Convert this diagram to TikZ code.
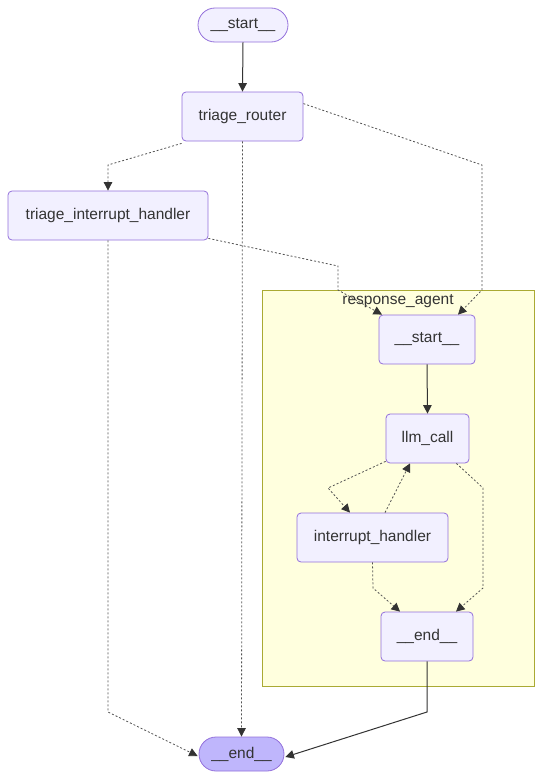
\documentclass[tikz,border=0pt]{standalone}
\usepackage{fontspec}
\setmainfont{Liberation Sans}
\usetikzlibrary{arrows.meta,shapes.misc}
\definecolor{nodefill}{HTML}{F2F0FF}
\definecolor{nodedraw}{HTML}{9370DB}
\definecolor{endfill}{HTML}{BFB6FC}
\definecolor{clfill}{HTML}{FFFFDE}
\definecolor{cldraw}{HTML}{AAAA33}
\definecolor{edge}{HTML}{333333}
\tikzset{
  box/.style={draw=nodedraw, fill=nodefill, line width=0.8pt, rounded corners=4pt, minimum height=49pt, inner sep=0pt, font=\fontsize{15.5}{18}\selectfont, text=edge},
  term/.style={draw=nodedraw, fill=nodefill, line width=0.8pt, rounded rectangle, minimum height=34pt, inner sep=0pt, font=\fontsize{15.5}{18}\selectfont, text=edge},
  solidedge/.style={draw=edge, line width=1pt, -{Triangle[length=8.5pt,width=8.5pt]}},
  dashedge/.style={draw=edge!85, line width=0.8pt, dash pattern=on 2pt off 2pt, -{Triangle[length=8.5pt,width=8.5pt,color=edge]}},
}
\begin{document}
\begin{tikzpicture}[x=1pt,y=-1pt]
\useasboundingbox (0,0) rectangle (542,779);
% cluster
\draw[draw=cldraw, fill=clfill, line width=0.8pt] (262,290) rectangle (534,686);
\node[font=\fontsize{15.5}{18}\selectfont, text=edge] (cllabel) at (398,301) {response\_agent};
% nodes
\node[term, minimum width=90pt] (start) at (243,25) {\_\_start\_\_};
\node[box, minimum width=121pt] (router) at (242.5,116.5) {triage\_router};
\node[box, minimum width=200pt] (tih) at (108,215.5) {triage\_interrupt\_handler};
\node[box, minimum width=96pt] (istart) at (427,339.5) {\_\_start\_\_};
\node[box, minimum width=83pt] (llm) at (427.5,438.5) {llm\_call};
\node[box, minimum width=151pt] (ih) at (372.5,537.5) {interrupt\_handler};
\node[box, minimum width=92pt] (iend) at (427,636.5) {\_\_end\_\_};
\node[term, fill=endfill, minimum width=85pt] (end) at (241.5,754) {\_\_end\_\_};
% edges
\draw[solidedge] (start.south) -- (router.north);
\draw[dashedge] ([yshift=-2pt]router.south west) -- (108,165) -- (tih.north);
\draw[dashedge] (router.south) -- (end.north);
\draw[dashedge] ([yshift=-12pt]router.north east) -- (482,165) -- (482,290) -- ([xshift=31pt]istart.north);
\draw[dashedge] ([yshift=2pt]tih.south east) -- (338,266) -- (338,290) -- ([xshift=-45pt]istart.north);
\draw[dashedge] (tih.south) -- (108,712) -- ([xshift=-1pt,yshift=-2pt]end.west);
\draw[solidedge] (istart.south) -- (llm.north);
\draw[dashedge] ([yshift=2pt]llm.south west) -- (328,488) -- ([xshift=-22.5pt]ih.north);
\draw[dashedge] ([xshift=12.5pt]ih.north) -- ([xshift=-17.5pt]llm.south);
\draw[dashedge] ([xshift=-13pt]llm.south east) -- (483,488) -- (483,588) -- ([xshift=29pt]iend.north);
\draw[dashedge] (ih.south) -- (373,588) -- ([xshift=-27pt]iend.north);
\draw[solidedge] (iend.south) -- (427,712) -- ([xshift=1pt,yshift=-3pt]end.east);
\end{tikzpicture}
\end{document}
